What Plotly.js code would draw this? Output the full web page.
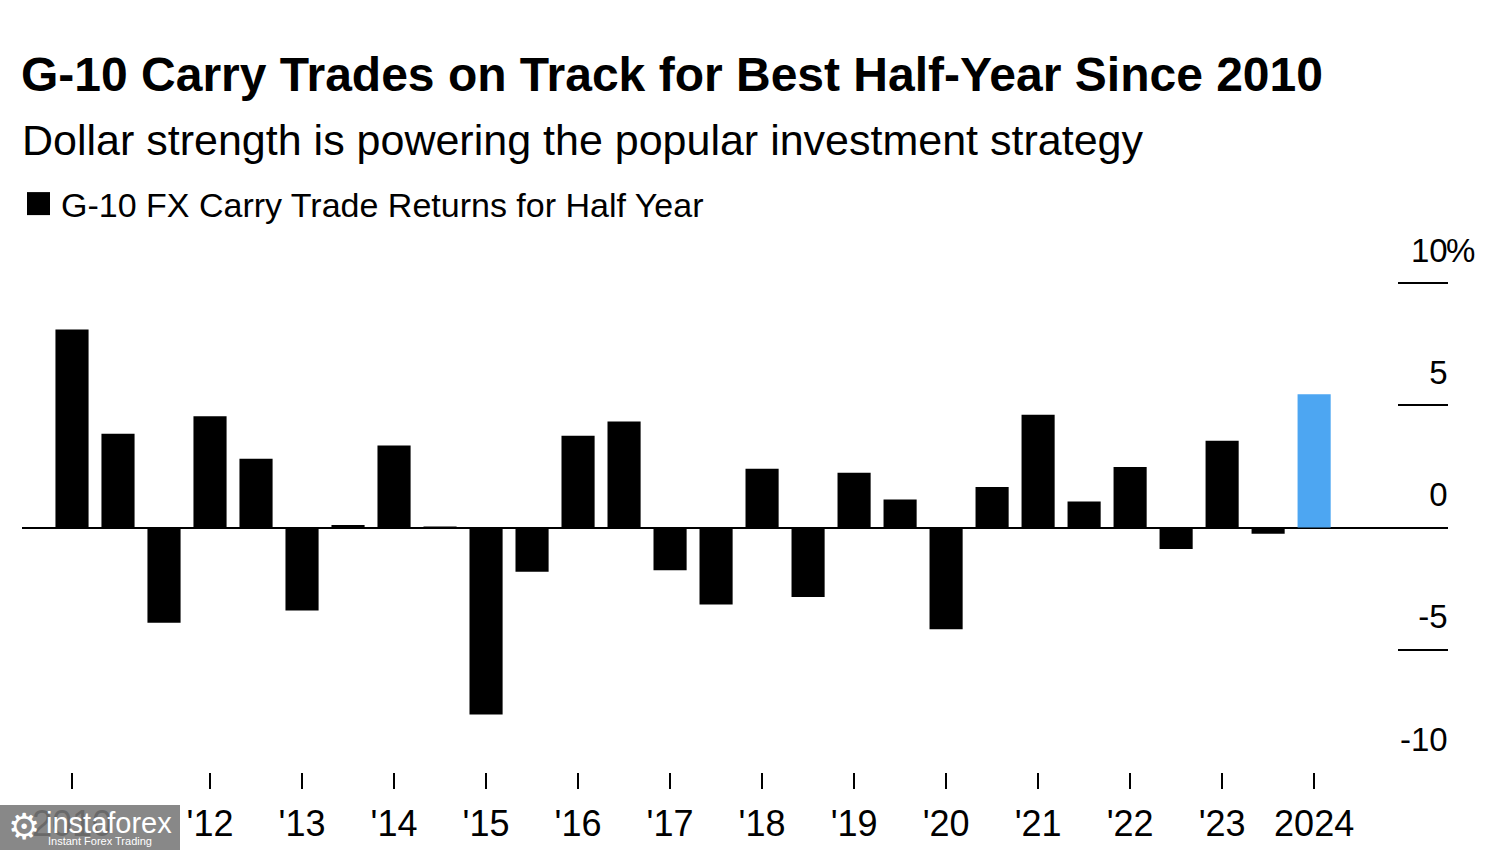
<!DOCTYPE html>
<html>
<head>
<meta charset="utf-8">
<script src="https://cdn.plot.ly/plotly-3.0.1.min.js"></script>
<style>html,body{margin:0;padding:0;background:#fff;}#chart{width:1500px;height:850px;}</style>
</head>
<body>
<div id="chart"></div>
<script>
// Half-year periods (bar categories)
const periods = [
  "2010 H2","2011 H1","2011 H2","2012 H1","2012 H2","2013 H1","2013 H2",
  "2014 H1","2014 H2","2015 H1","2015 H2","2016 H1","2016 H2","2017 H1",
  "2017 H2","2018 H1","2018 H2","2019 H1","2019 H2","2020 H1","2020 H2",
  "2021 H1","2021 H2","2022 H1","2022 H2","2023 H1","2023 H2","2024 H1"
];
// G-10 FX carry trade returns for each half year (%)
const returns = [
  8.10, 3.84, -3.90, 4.55, 2.81, -3.39, 0.10,
  3.35, 0.04, -7.65, -1.81, 3.75, 4.34, -1.75,
  -3.15, 2.40, -2.84, 2.24, 1.15, -4.16, 1.66,
  4.61, 1.06, 2.48, -0.88, 3.55, -0.26, 5.45
];
const barColors = periods.map((p, i) => i === periods.length - 1 ? "#4da6f2" : "#000000");

// X tick labels
const xTickVals = ["2010 H2","2012 H1","2013 H1","2014 H1","2015 H1","2016 H1","2017 H1",
                   "2018 H1","2019 H1","2020 H1","2021 H1","2022 H1","2023 H1","2024 H1"];
const xTickText = ["2010","'12","'13","'14","'15","'16","'17","'18","'19","'20","'21","'22","'23","2024"];
// Y tick labels
const yTickVals = [-10, -5, 0, 5, 10];
const yTickText = ["-10", "-5", "0", "5", "10"];

const FONT = "Liberation Sans, Arial, Helvetica, sans-serif";

const trace = {
  type: "bar",
  x: periods,
  y: returns,
  name: "G-10 FX Carry Trade Returns for Half Year",
  marker: { color: barColors, line: { width: 0 } },
  showlegend: true,
  hoverinfo: "x+y"
};

// paper coordinates helpers for the plot area
const PL = 22, PR = 1448, PT = 240, PB = 772;
const px2x = p => (p - PL) / (PR - PL);
const py2y = p => (PB - p) / (PB - PT);

const layout = {
  width: 1500,
  height: 850,
  margin: { l: PL, r: 1500 - PR, t: PT, b: 850 - PB, pad: 0 },
  paper_bgcolor: "#ffffff",
  plot_bgcolor: "#ffffff",
  font: { family: FONT, color: "#000000" },
  title: {
    text: "G-10 Carry Trades on Track for Best Half-Year Since 2010",
    font: { family: FONT, size: 48, color: "#000000", weight: 700 },
    xref: "container", x: 21 / 1500, xanchor: "left",
    yref: "container", y: 1 - 74 / 850, yanchor: "middle"
  },
  bargap: 0.28,
  showlegend: true,
  legend: {
    xref: "container", yref: "container",
    x: 0.014, y: 1 - 204 / 850, xanchor: "left", yanchor: "middle",
    orientation: "h",
    font: { family: FONT, size: 34, color: "#000000" },
    bgcolor: "rgba(0,0,0,0)",
    itemclick: false, itemdoubleclick: false
  },
  xaxis: {
    type: "category",
    range: [-1.087, 29.91],
    tickmode: "array",
    tickvals: xTickVals,
    ticktext: xTickText,
    ticks: "outside",
    ticklen: 16,
    tickwidth: 2,
    tickcolor: "#000000",
    ticklabelstandoff: 4,
    tickfont: { family: FONT, size: 36, color: "#000000" },
    showgrid: false,
    showline: false,
    zeroline: false,
    fixedrange: true
  },
  yaxis: {
    side: "right",
    range: [-10, 11.76],
    tickmode: "array",
    tickvals: yTickVals,
    ticktext: yTickText,
    ticks: "inside",
    ticklen: 50,
    tickwidth: 2,
    tickcolor: "#000000",
    ticklabelposition: "inside",
    ticklabeloverflow: "allow",
    ticklabelshift: -33,
    ticklabelstandoff: -46,
    tickfont: { family: FONT, size: 33, color: "#000000" },
    showgrid: false,
    showline: false,
    zeroline: true,
    zerolinecolor: "#000000",
    zerolinewidth: 2,
    fixedrange: true
  },
  annotations: [
    {
      text: "Dollar strength is powering the popular investment strategy",
      xref: "paper", yref: "paper",
      x: px2x(20), y: py2y(140),
      xanchor: "left", yanchor: "middle",
      showarrow: false,
      font: { family: FONT, size: 43, color: "#000000" }
    },
    {
      text: "%",
      xref: "paper", yref: "y",
      x: 1, y: 10, yshift: 33, xshift: -4,
      xanchor: "left", yanchor: "middle",
      showarrow: false,
      font: { family: FONT, size: 33, color: "#000000" }
    },
    // watermark
    {
      text: "⚙",
      xref: "paper", yref: "paper",
      x: px2x(24), y: py2y(826),
      xanchor: "center", yanchor: "middle",
      showarrow: false,
      font: { family: "DejaVu Sans", size: 36, color: "#ffffff" }
    },
    {
      text: "instaforex",
      xref: "paper", yref: "paper",
      x: px2x(44), y: py2y(823),
      xanchor: "left", yanchor: "middle",
      showarrow: false,
      font: { family: FONT, size: 29, color: "#ffffff" }
    },
    {
      text: "Instant Forex Trading",
      xref: "paper", yref: "paper",
      x: px2x(46), y: py2y(841),
      xanchor: "left", yanchor: "middle",
      showarrow: false,
      font: { family: FONT, size: 11, color: "#ffffff" }
    }
  ],
  shapes: [
    {
      type: "rect", xref: "paper", yref: "paper", layer: "above",
      x0: px2x(0), x1: px2x(180), y0: py2y(850), y1: py2y(805),
      fillcolor: "rgba(120,120,120,0.88)", line: { width: 0 }
    }
  ]
};

Plotly.newPlot("chart", [trace], layout, { displayModeBar: false, staticPlot: true }).then(gd => {
  // draw the legend square at the reference size
  gd.querySelectorAll(".legend .legendpoints path").forEach(p => {
    p.setAttribute("d", "M6,-11.5H29V11.5H6Z");
    p.removeAttribute("transform");
  });
});
</script>
</body>
</html>
